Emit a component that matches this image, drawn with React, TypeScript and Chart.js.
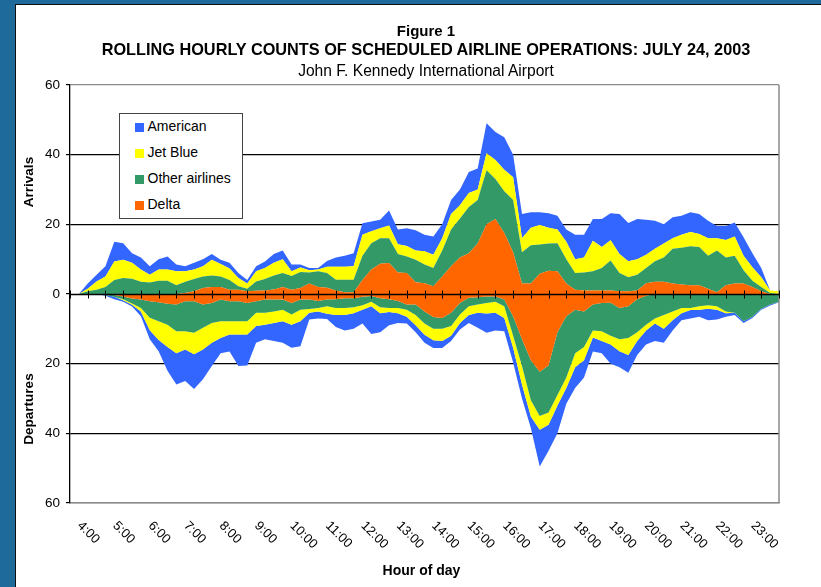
import React, { useEffect, useRef } from 'react';
import { Chart, registerables } from 'chart.js';

Chart.register(...registerables);

const FONT = '"Liberation Sans", Arial, Helvetica, sans-serif';

// categories: 15-minute points from 4:00 to 24:00
const TIMES = [
  '4:00', '4:15', '4:30', '4:45', '5:00', '5:15', '5:30', '5:45', '6:00', '6:15', '6:30', '6:45',
  '7:00', '7:15', '7:30', '7:45', '8:00', '8:15', '8:30', '8:45', '9:00', '9:15', '9:30', '9:45',
  '10:00', '10:15', '10:30', '10:45', '11:00', '11:15', '11:30', '11:45', '12:00', '12:15', '12:30', '12:45',
  '13:00', '13:15', '13:30', '13:45', '14:00', '14:15', '14:30', '14:45', '15:00', '15:15', '15:30', '15:45',
  '16:00', '16:15', '16:30', '16:45', '17:00', '17:15', '17:30', '17:45', '18:00', '18:15', '18:30', '18:45',
  '19:00', '19:15', '19:30', '19:45', '20:00', '20:15', '20:30', '20:45', '21:00', '21:15', '21:30', '21:45',
  '22:00', '22:15', '22:30', '22:45', '23:00', '23:15', '23:30', '23:45', '24:00',
];

const HOUR_LABELS = [
  '4:00', '5:00', '6:00', '7:00', '8:00', '9:00', '10:00', '11:00', '12:00', '13:00',
  '14:00', '15:00', '16:00', '17:00', '18:00', '19:00', '20:00', '21:00', '22:00', '23:00',
];
const HALF_HOUR_TICKS = TIMES.filter((t) => t.endsWith(':30'));

const Y_TICKS = [-60, -40, -20, 0, 20, 40, 60];

// Arrivals (rolling hourly counts)
const DELTA_ARR = [
  0, 0, 0, 0, 0, 0, 0, 0, 0, 0, 0, 0, 0, 0.3, 0.8, 1.7, 2, 2, 1.2, 1.2, 0.8,
  0.9, 1, 1.3, 2, 1.2, 1.7, 3, 2, 1.8, 1, 0.5, 0.5, 4, 7, 8.7, 8.9, 6.2, 6, 3.4,
  3.1, 2.2, 5, 8, 10.5, 11.7, 14.5, 20, 21.5, 17.5, 12, 3, 3, 5.8, 6.7, 6.5, 3, 1.2, 1, 1,
  1, 1, 0.8, 0.8, 1, 3.1, 3.5, 3.5, 3, 2.7, 2.5, 2.5, 1.5, 0.5, 2.5, 3, 3, 2, 0.8, 0, 0,
];
const OTHER_ARR = [
  0, 0, 0.8, 1.2, 2, 4, 4.6, 4.4, 3.5, 3.3, 3.8, 3.8, 2.5, 3.2, 3.5, 3.3, 3.3, 3, 2.8, 1, 0.7,
  2.7, 3.3, 4, 4, 4, 4.6, 3.2, 4.5, 4.2, 3.1, 3.6, 3.6, 7, 7.6, 7.3, 7.1, 5.3, 4.8, 6.4,
  5.4, 5.3, 7.5, 10.5, 11.2, 13.3, 12.5, 15.5, 11.5, 12, 15, 9, 11, 8.4, 7.8, 8.1, 7, 4.8, 5.2, 5.5,
  6.5, 8.6, 5.2, 4, 4.5, 4.4, 5.9, 7, 10, 10.6, 11.2, 11, 9.5, 12, 8, 8, 3.8, 1.8, 1.2, 0.3, 0,
];
const JETBLUE_ARR = [
  0, 0, 0.7, 2.4, 3, 5.3, 5.2, 4.6, 3.5, 2.2, 3.2, 3.2, 4, 3, 2.7, 3, 4.5, 3.6, 3.3, 2.4, 1.5,
  2.9, 3.2, 3.7, 4, 1.3, 1.3, 0.6, 0.5, 1.8, 3.7, 3.7, 3.9, 6, 3.4, 2.9, 3.7, 2.8, 3, 2.7,
  3.8, 3.8, 3.5, 4.5, 3.8, 4, 3, 4.9, 5.5, 6.2, 6.5, 4, 5, 5.6, 4.5, 3.9, 5, 4, 4.3, 8.8,
  6, 5.8, 5.5, 4.6, 4.5, 3.8, 3.6, 4, 3, 3.7, 4.1, 3.7, 5, 3.5, 5, 5.5, 4.2, 3.9, 2.8, 0.7, 0.8,
];
const AMERICAN_ARR = [
  0, 0, 1.5, 1.9, 3, 5.7, 4.8, 2.7, 3.5, 2.5, 3, 3.8, 2, 1.5, 2, 2, 1.7, 1.2, 1.7, 1.4, 1,
  1.5, 1.8, 2.5, 2.5, 2, 0.9, 0.7, 0.5, 1.7, 2.7, 3.2, 3.7, 3.3, 2.8, 2.4, 4.3, 4.2, 5.1, 5.8,
  4.7, 5.2, 4, 4, 4.5, 6, 6, 8.6, 8, 9.3, 6.5, 7, 4.5, 3.7, 4.2, 4, 3.5, 7, 6.5, 6.2,
  8, 7.8, 11.5, 11, 11.5, 10, 8, 5.5, 6, 5.5, 5.7, 5.8, 5, 3.5, 4, 4, 5.3, 4, 2.7, 0, 0,
];

// Departures (rolling hourly counts, drawn below zero)
const DELTA_DEP = [
  0, 0, 0, 0, 0, 0.3, 0.7, 1.3, 1.6, 2.1, 2.4, 2.8, 3, 2.1, 2.1, 3, 2.6, 1.6, 2.1, 2.1, 2.6,
  2.1, 1.6, 1.6, 1.6, 2.6, 1.6, 1.6, 2, 1.6, 1.5, 1.2, 1.2, 0.8, 0.6, 1.2, 1.5, 2, 3, 3,
  5, 6.6, 6.9, 5.4, 2.6, 1.1, 0.9, 0.7, 0.7, 1.6, 6.4, 13, 19, 22.3, 20.5, 11, 6.4, 4.5, 5, 3,
  2.6, 2.5, 4, 3.5, 1.5, 0.5, 0, 0, 0, 0, 0, 0, 0, 0, 0, 0, 0, 0, 0, 0, 0,
];
const OTHER_DEP = [
  0, 0, 0, 0, 0.3, 0.5, 0.8, 1.4, 2.4, 4.7, 5.4, 6, 7.7, 8.6, 9, 6.7, 5.7, 6.2, 5.7, 5.7, 5.2,
  3.3, 3.8, 3.4, 2.9, 3.3, 2.9, 2.7, 2, 1.9, 2.5, 2.8, 2.6, 2.4, 1.6, 2.6, 2.5, 2, 1.5, 3,
  3.5, 3.4, 3.1, 3.8, 3.3, 2.4, 2.1, 1.9, 1.5, 1.9, 5.6, 7.7, 11.5, 12.7, 13.5, 18, 17.6, 12.5, 10.2, 7.5,
  8.1, 9.5, 9, 9.1, 9.5, 8.3, 7, 6, 5, 4, 4, 3.5, 3.2, 3.5, 5, 5.4, 7.8, 6.5, 4.2, 3, 2.2,
];
const JETBLUE_DEP = [
  0, 0, 0, 0, 0, 0, 0.3, 0.4, 1, 3.6, 5.4, 6.4, 6.3, 5.2, 6.2, 6.2, 5.7, 4.8, 3.8, 3.8, 3.8,
  3.8, 3.4, 3.3, 3.3, 2.9, 3.3, 1.1, 1, 2.2, 2, 2, 1.7, 1.3, 1.3, 1.7, 1.2, 1.5, 2, 3,
  3.2, 3.3, 3.5, 2.8, 2.4, 2.5, 2.4, 3, 3.2, 3.4, 3.4, 5.3, 4.7, 4, 3.5, 3, 3, 4, 3.8, 2,
  2.8, 2.5, 3.4, 4.9, 2.5, 1.7, 1.5, 4, 2.5, 1.5, 0.6, 1, 1, 1, 0.5, 0, 0, 0, 0, 0, 0,
];
const AMERICAN_DEP = [
  0, 0, 0, 0, 0.2, 0.7, 0.4, 0.5, 1.4, 2.6, 3.2, 6.8, 9, 9.1, 10, 8.6, 6.7, 4.4, 4.9, 9.1, 8.9,
  4.8, 4.2, 5.2, 6.2, 6.6, 7.2, 1.9, 2, 1.5, 3.5, 4.5, 4.5, 4, 8, 5.5, 3.8, 2.8, 2, 2,
  2.3, 2.2, 2, 1.5, 1.9, 2.3, 4.3, 5.5, 5.1, 3.8, 4.3, 4, 3.3, 10.5, 7.5, 8, 4.5, 6, 5, 4,
  3.5, 5.5, 4.6, 5.1, 4, 4, 5, 4, 3, 2, 2.4, 2, 3.3, 2.8, 1, 0.6, 0.5, 0.4, 0.3, 0.3, 0.2,
];

// stack order from the zero line outwards
const SERIES = [
  { name: 'Delta', color: '#ff6600', arr: DELTA_ARR, dep: DELTA_DEP },
  { name: 'Other airlines', color: '#339966', arr: OTHER_ARR, dep: OTHER_DEP },
  { name: 'Jet Blue', color: '#ffff00', arr: JETBLUE_ARR, dep: JETBLUE_DEP },
  { name: 'American', color: '#3366ff', arr: AMERICAN_ARR, dep: AMERICAN_DEP },
];
const LEGEND_ORDER = ['American', 'Jet Blue', 'Other airlines', 'Delta'];

const overlayPlugin = {
  id: 'overlay',
  afterDatasetsDraw(chart: any) {
    const { ctx, chartArea, scales } = chart;
    const x = scales.x;
    const y = scales.y;
    const y0 = Math.round(y.getPixelForValue(0)) + 0.5;
    ctx.save();
    // right border of plot
    ctx.strokeStyle = '#8a8a8a';
    ctx.lineWidth = 1.5;
    ctx.beginPath();
    ctx.moveTo(chartArea.right, chartArea.top);
    ctx.lineTo(chartArea.right, chartArea.bottom);
    ctx.stroke();
    // zero line (category axis)
    ctx.strokeStyle = '#000';
    ctx.lineWidth = 1.3;
    ctx.beginPath();
    ctx.moveTo(chartArea.left, y0);
    ctx.lineTo(chartArea.right, y0);
    ctx.stroke();
    // tick marks crossing the zero line
    ctx.lineWidth = 1;
    TIMES.forEach((t, i) => {
      const major = HOUR_LABELS.includes(t) || t === '24:00';
      const minor = HALF_HOUR_TICKS.includes(t);
      if (!major && !minor) return;
      const px = Math.round(x.getPixelForValue(i)) + 0.5;
      ctx.beginPath();
      ctx.moveTo(px, y0 - 4);
      ctx.lineTo(px, y0 + 4);
      ctx.stroke();
    });
    // rotated hour labels
    ctx.fillStyle = '#000';
    ctx.font = '13px ' + FONT;
    ctx.textAlign = 'left';
    ctx.textBaseline = 'top';
    HOUR_LABELS.forEach((lbl) => {
      const i = TIMES.indexOf(lbl);
      const px = x.getPixelForValue(i);
      ctx.save();
      ctx.translate(px + 14, chartArea.bottom + 16);
      ctx.rotate(Math.PI / 4);
      ctx.fillText(lbl, 0, 0);
      ctx.restore();
    });
    ctx.restore();
  },
};

function ChartCanvas() {
  const ref = useRef<HTMLCanvasElement | null>(null);
  useEffect(() => {
    if (!ref.current) return;
    const datasets: any[] = [];
    SERIES.forEach((s, k) => {
      datasets.push({
        label: s.name,
        data: s.arr,
        stack: 'arrivals',
        backgroundColor: s.color,
        borderColor: 'rgba(0,0,0,0)',
        borderWidth: 0,
        pointRadius: 0,
        tension: 0,
        fill: k === 0 ? 'origin' : '-1',
      });
    });
    SERIES.forEach((s, k) => {
      datasets.push({
        label: s.name + ' (departures)',
        data: s.dep.map((v) => -v),
        stack: 'departures',
        backgroundColor: s.color,
        borderColor: 'rgba(0,0,0,0)',
        borderWidth: 0,
        pointRadius: 0,
        tension: 0,
        fill: k === 0 ? 'origin' : '-1',
      });
    });
    const chart = new Chart(ref.current, {
      type: 'line',
      data: { labels: TIMES, datasets },
      options: {
        responsive: false,
        animation: false,
        devicePixelRatio: 1,
        layout: { padding: { left: 0, top: 85, right: 42, bottom: 0 } },
        plugins: { legend: { display: false }, tooltip: { enabled: false }, title: { display: false } },
        elements: { line: { borderWidth: 0 } },
        scales: {
          x: {
            type: 'category',
            offset: false,
            grid: { display: false },
            border: { display: true, color: '#8a8a8a', width: 1.5 },
            ticks: { display: false },
            afterFit: (s: any) => {
              s.height = 84;
            },
          },
          y: {
            stacked: true,
            min: -60,
            max: 60,
            afterBuildTicks: (s: any) => {
              s.ticks = Y_TICKS.map((v) => ({ value: v }));
            },
            afterFit: (s: any) => {
              s.width = 70;
            },
            border: { display: true, color: '#000', width: 1.3 },
            grid: {
              color: (c: any) => {
                const v = c.tick ? c.tick.value : 0;
                if (v === 60 || v === -60) return '#8a8a8a';
                if (v === 0) return 'rgba(0,0,0,0)';
                return '#000';
              },
              lineWidth: 1.2,
              tickLength: 4,
              tickColor: '#000',
              drawTicks: true,
            },
            ticks: {
              padding: 6,
              color: '#000',
              font: { family: FONT, size: 13.5 },
              callback: (v: any) => String(Math.abs(Number(v))),
            },
          },
        },
      },
      plugins: [overlayPlugin],
    });
    return () => chart.destroy();
  }, []);
  return (
    <canvas
      ref={ref}
      width={821}
      height={587}
      style={{ position: 'absolute', left: 0, top: 0, width: 821, height: 587 }}
    />
  );
}

const abs = (o: any): React.CSSProperties => ({ position: 'absolute', whiteSpace: 'nowrap', lineHeight: 1, fontFamily: FONT, color: '#000', ...o });

export default function App() {
  return (
    <div style={{ position: 'fixed', left: 0, top: 0, width: 821, height: 587, background: '#1e6a9b', overflow: 'hidden' }}>
      <div style={{ position: 'absolute', left: 15, top: 4, width: 830, height: 600, background: '#fff', borderTop: '1.5px solid #111', borderLeft: '1.5px solid #111' }} />
      <ChartCanvas />
      <div style={abs({ left: 26, width: 800, top: 23, textAlign: 'center', fontSize: 15, fontWeight: 'bold' })}>Figure 1</div>
      <div style={abs({ left: 26, width: 800, top: 41, textAlign: 'center', fontSize: 16.3, fontWeight: 'bold' })}>
        ROLLING HOURLY COUNTS OF SCHEDULED AIRLINE OPERATIONS: JULY 24, 2003
      </div>
      <div style={abs({ left: 26, width: 800, top: 63, textAlign: 'center', fontSize: 15.6 })}>John F. Kennedy International Airport</div>
      <div style={abs({ left: 28.5, top: 182, fontSize: 13.5, fontWeight: 'bold', transform: 'translate(-50%,-50%) rotate(-90deg)' })}>Arrivals</div>
      <div style={abs({ left: 28.5, top: 409, fontSize: 13.5, fontWeight: 'bold', transform: 'translate(-50%,-50%) rotate(-90deg)' })}>Departures</div>
      <div style={abs({ left: 221.5, width: 400, top: 563, textAlign: 'center', fontSize: 14, fontWeight: 'bold' })}>Hour of day</div>
      <div style={{ position: 'absolute', left: 119, top: 113, width: 122, height: 104, background: '#fff', border: '1px solid #444' }}>
        {LEGEND_ORDER.map((name, i) => {
          const s = SERIES.find((d) => d.name === name)!;
          return (
            <React.Fragment key={name}>
              <div style={{ position: 'absolute', left: 15, top: 9 + i * 26, width: 9, height: 9, background: s.color }} />
              <div style={abs({ left: 27.5, top: 5 + i * 26, fontSize: 14 })}>{name}</div>
            </React.Fragment>
          );
        })}
      </div>
    </div>
  );
}
